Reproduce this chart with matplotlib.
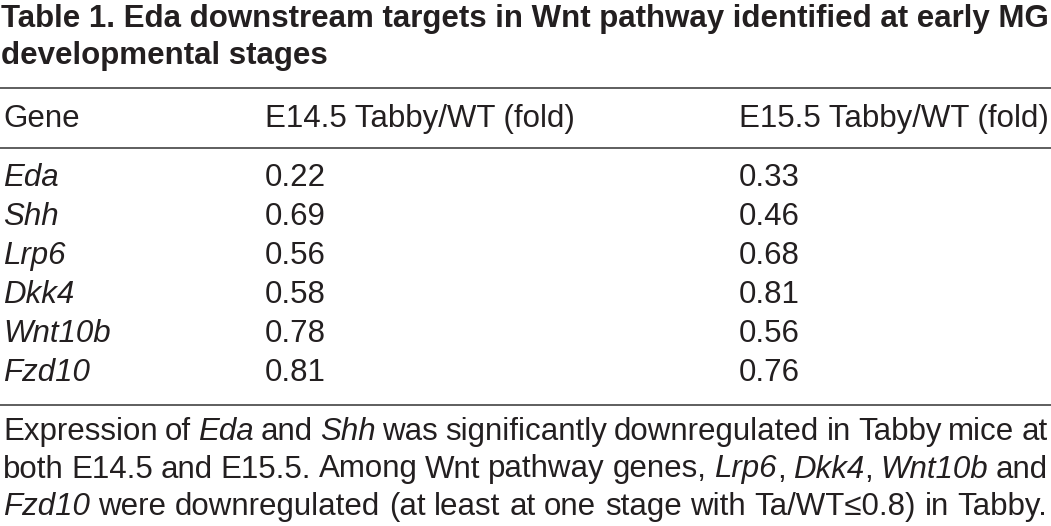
import re
import matplotlib
matplotlib.use('Agg')
import matplotlib.pyplot as plt

# table content
title_lines = ['Table 1. Eda downstream targets in Wnt pathway identified at early MG',
               'developmental stages']
headers = ['Gene', 'E14.5 Tabby/WT (fold)', 'E15.5 Tabby/WT (fold)']
genes = ['Eda', 'Shh', 'Lrp6', 'Dkk4', 'Wnt10b', 'Fzd10']
e145 = ['0.22', '0.69', '0.56', '0.58', '0.78', '0.81']
e155 = ['0.33', '0.46', '0.68', '0.81', '0.56', '0.76']
# _word_ = italic
footnote = ['Expression of _Eda_ and _Shh_ was significantly downregulated in Tabby mice at',
            'both E14.5 and E15.5. Among Wnt pathway genes, _Lrp6_, _Dkk4_, _Wnt10b_ and',
            '_Fzd10_ were downregulated (at least at one stage with Ta/WT\u22640.8) in Tabby.']

plt.rcParams['font.family'] = ['Liberation Sans', 'DejaVu Sans']

W, H = 1051, 526
fig = plt.figure('table1', figsize=(W/100, H/100), dpi=100)
ink = '#231f20'
fs = 22.5
r = fig.canvas.get_renderer()

def Y(px):
    return 1 - px/H

def X(px):
    return px/W

def width(s, italic=False):
    st = 'italic' if italic else 'normal'
    t = fig.text(0, 0, '|' + s + '|', fontsize=fs, style=st)
    t2 = fig.text(0, 0, '||', fontsize=fs, style=st)
    w = t.get_window_extent(r).width - t2.get_window_extent(r).width
    t.remove(); t2.remove()
    return w

def draw_line(x0, yb, line, right=None):
    words = [[(p.strip('_'), p.startswith('_')) for p in re.split(r'(_[^_]+_)', wd) if p]
             for wd in line.split(' ')]
    sp = width(' ')
    extra = 0
    if right is not None:
        natural = sum(width(s, it) for wd in words for s, it in wd) + sp*(len(words) - 1)
        extra = (right - x0 - natural)/(len(words) - 1)
    x = x0
    for wd in words:
        for s, it in wd:
            fig.text(X(x), Y(yb), s, fontsize=fs, color=ink, va='baseline',
                     style='italic' if it else 'normal')
            x += width(s, it)
        x += sp + extra

fig.text(X(1), Y(27), title_lines[0], fontsize=22.5, fontweight='bold', color=ink, va='baseline')
fig.text(X(1), Y(64), title_lines[1], fontsize=22.5, fontweight='bold', color=ink, va='baseline')

for yy in [88, 148, 405]:
    fig.add_artist(plt.Line2D([0, 1], [Y(yy), Y(yy)], color='#333333', lw=1.1))

cols = [3, 265, 739]
for x, h in zip(cols, headers):
    fig.text(X(x), Y(127), h, fontsize=fs, color=ink, va='baseline')

for i in range(len(genes)):
    yb = 186 + i*39
    fig.text(X(cols[0]), Y(yb), genes[i], fontsize=fs, color=ink, va='baseline', style='italic')
    fig.text(X(cols[1]), Y(yb), e145[i], fontsize=fs, color=ink, va='baseline')
    fig.text(X(cols[2]), Y(yb), e155[i], fontsize=fs, color=ink, va='baseline')

for i, line in enumerate(footnote):
    draw_line(3, 440 + i*37.5, line, right=1048 if i < 2 else None)

plt.savefig('out.png', dpi=100)
